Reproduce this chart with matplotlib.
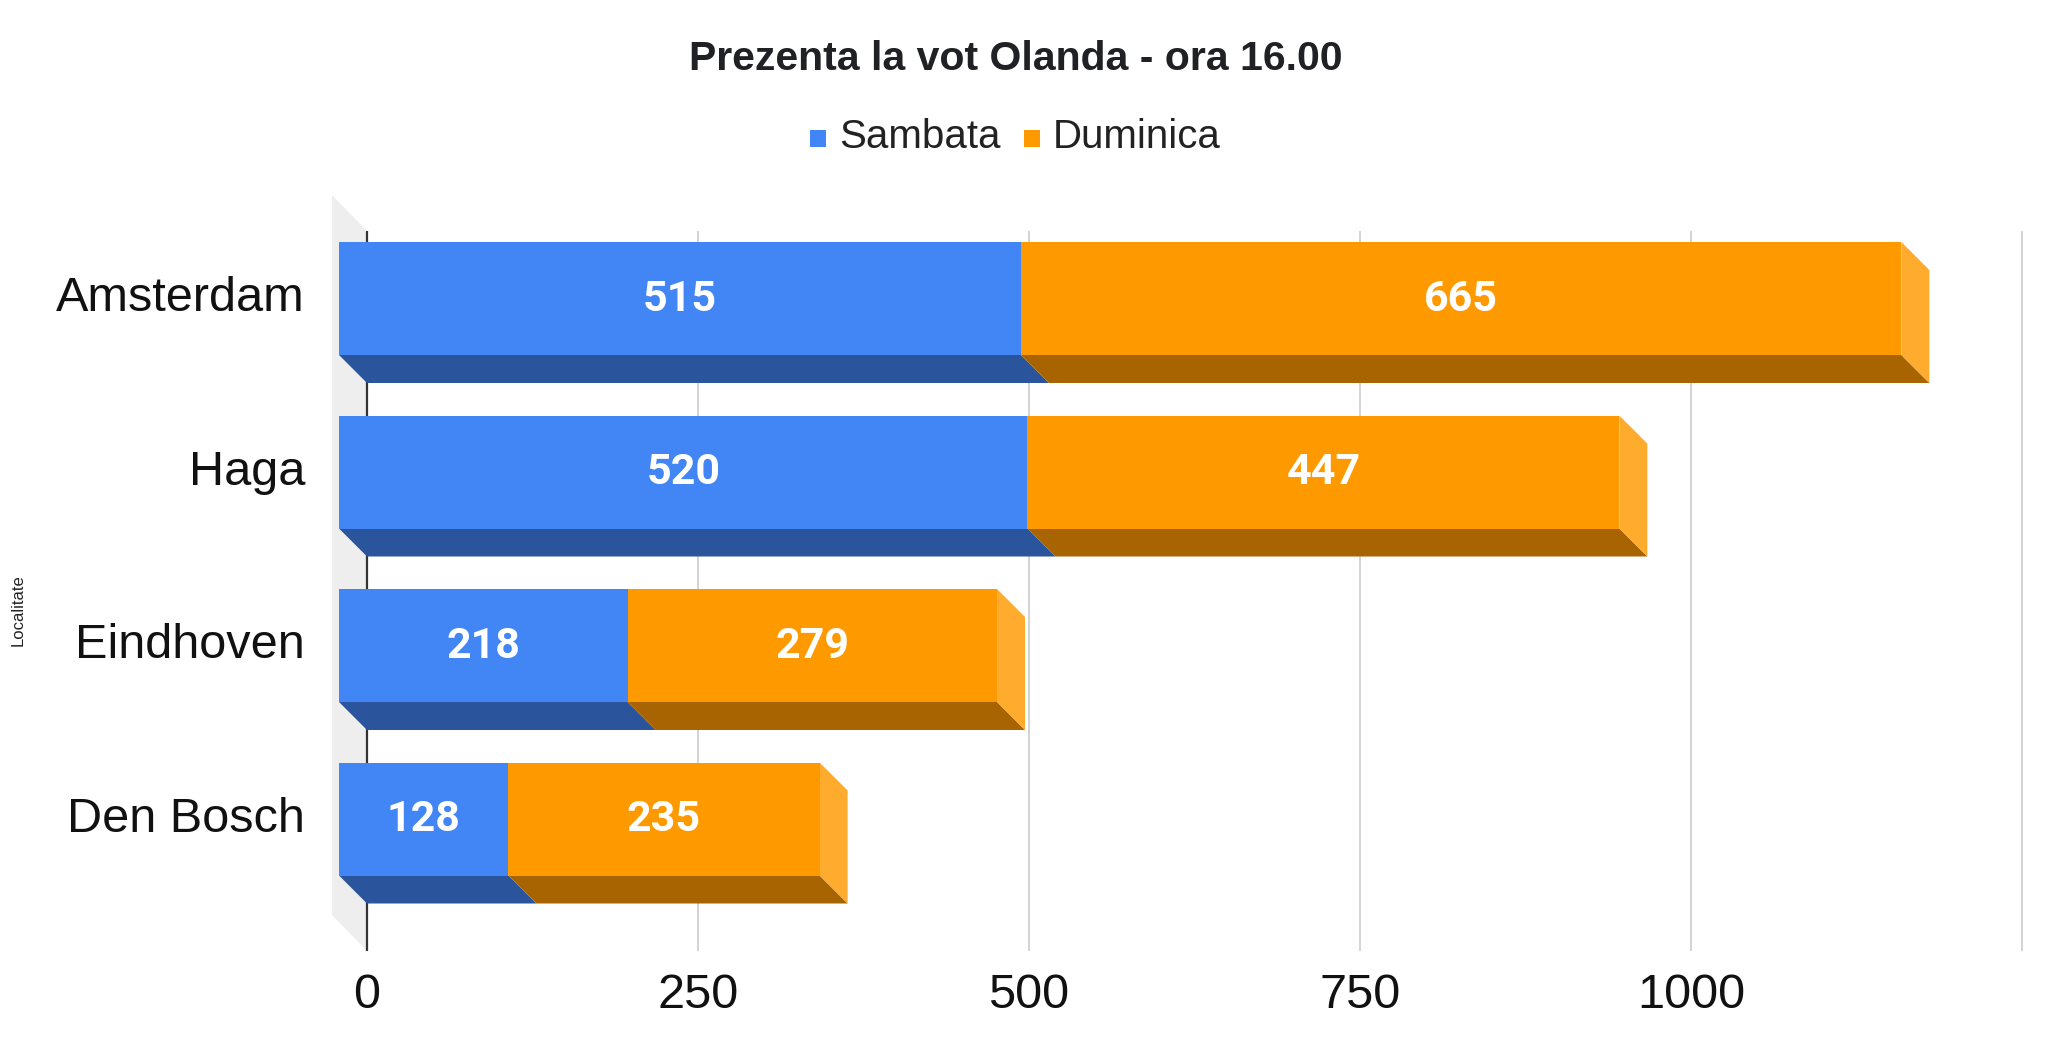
import matplotlib
matplotlib.use("Agg")
import matplotlib.pyplot as plt
from matplotlib.patches import Polygon, Rectangle

# ---- data ----
categories = ["Amsterdam", "Haga", "Eindhoven", "Den Bosch"]
sambata = [515, 520, 218, 128]
duminica = [665, 447, 279, 235]
series_names = ["Sambata", "Duminica"]
grid_values = [0, 250, 500, 750, 1000, 1250]
tick_values = [0, 250, 500, 750, 1000]
tick_labels = ["0", "250", "500", "750", "1000"]
title = "Prezenta la vot Olanda - ora 16.00"
y_axis_title = "Localitate"

# ---- styling ----
W, H = 2048, 1053
fig = plt.figure(figsize=(W / 100, H / 100), dpi=100)
fig.patch.set_facecolor("white")

front_cols = ["#4285f4", "#ff9900"]
bottom_cols = ["#2a559d", "#a86400"]
side_cols = ["#6d9ef6", "#ffab2e"]

# axes placement in pixels
ax_left_px, ax_right_px = 320, 2040
ax_top_px, ax_bot_px = 180, 951
ax = fig.add_axes([ax_left_px / W, 1 - ax_bot_px / H,
                   (ax_right_px - ax_left_px) / W, (ax_bot_px - ax_top_px) / H])

x0_px, px_per_unit = 367, 1.324
row0_px, row_px = 298.5, 173.5


def xd(px):
    return (px - x0_px) / px_per_unit


def yd(px):
    return (px - row0_px) / row_px


ax.set_xlim(xd(ax_left_px), xd(ax_right_px))
ax.set_ylim(yd(ax_bot_px), yd(ax_top_px))
for s in ax.spines.values():
    s.set_visible(False)
ax.set_yticks([])
ax.set_xticks(tick_values)
ax.set_xticklabels(tick_labels, fontsize=35, family="Liberation Sans", color="#111111")
ax.tick_params(axis="x", length=0, pad=16)

D = 28 / px_per_unit          # depth offset in x data units
dy = 28 / row_px              # depth offset in y data units
half = 113 / 2 / row_px       # half height of front face

grid_top = yd(231)
grid_bot = yd(951)

# left wall
wall = Polygon([(xd(332), yd(195)), (0, grid_top), (0, grid_bot), (xd(332), yd(915))],
               closed=True, facecolor="#eeeeee", edgecolor="none", zorder=0)
ax.add_patch(wall)

# gridlines (back plane)
for g in grid_values:
    ax.plot([g, g], [grid_top, grid_bot],
            color="#333333" if g == 0 else "#cccccc",
            lw=1.6 if g == 0 else 1.2, zorder=1, solid_capstyle="butt")

# bars
for i, cat in enumerate(categories):
    vals = [sambata[i], duminica[i]]
    start = 0
    yft, yfb = i - half, i + half
    for k, v in enumerate(vals):
        a, b = start, start + v
        # bottom face
        ax.add_patch(Polygon([(a - D, yfb), (b - D, yfb), (b, yfb + dy), (a, yfb + dy)],
                             closed=True, facecolor=bottom_cols[k], edgecolor="none", zorder=2 + k))
        # front face
        ax.add_patch(Rectangle((a - D, yft), v, yfb - yft,
                               facecolor=front_cols[k], edgecolor="none", zorder=4 + k))
        if k == len(vals) - 1:
            ax.add_patch(Polygon([(b - D, yft), (b, yft + dy), (b, yfb + dy), (b - D, yfb)],
                                 closed=True, facecolor=side_cols[k], edgecolor="none", zorder=3 + k))
        ax.text((a + b) / 2 - D, i + 0.005, str(v), ha="center", va="center",
                fontsize=31, fontweight="bold", family="Roboto", color="white", zorder=10)
        start = b
    # category label
    ax.text(xd(305), i, cat, ha="right", va="center", fontsize=35,
            family="Liberation Sans", color="#111111", clip_on=False)

# axis title
fig.text(18 / W, 1 - 610 / H, y_axis_title, rotation=90, ha="center", va="center",
         fontsize=12, family="Liberation Sans", color="#222222")

# chart title
fig.text(1016 / W, 1 - 59.5 / H, title, ha="center", va="center", fontsize=29.5,
         fontweight="bold", family="Liberation Sans", color="#202124")

# legend
leg_items = [(810, 839), (1024, 1053)]
for k, (sq_x, tx_x) in enumerate(leg_items):
    fig.patches.append(Rectangle((sq_x / W, 1 - 147 / H), 16 / W, 17 / H,
                                 transform=fig.transFigure, facecolor=front_cols[k],
                                 edgecolor="none"))
    fig.text(tx_x / W, 1 - 137 / H, series_names[k], ha="left", va="center",
             fontsize=29, family="Liberation Sans", color="#222222")

fig.savefig("out.png", dpi=100)
